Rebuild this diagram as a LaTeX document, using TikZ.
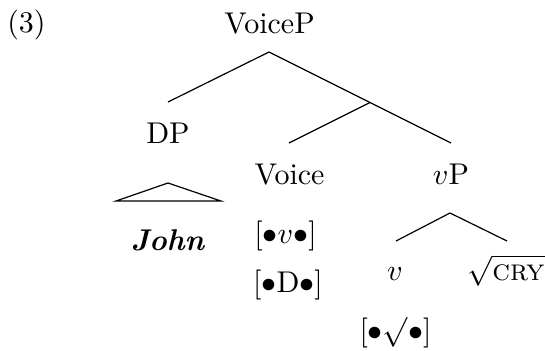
\documentclass[tikz,border=0pt]{standalone}
\begin{document}
\begin{tikzpicture}[x=0.3333pt,y=-0.3333pt,every node/.style={anchor=base,inner sep=0pt}]
    \useasboundingbox (0,0) rectangle (545,350);
    \node (ex) at (26.5,32.5) {(3)};
    \node (VoiceP) at (269.5,33) {VoiceP};
    \node (DP) at (168,143) {DP};
    \node (Voice) at (289.5,184) {Voice};
    \node (vP) at (451,184) {$v$P};
    \node (John) at (168,250) {\textbf{\textit{John}}};
    \node (fv) at (285.5,243) {[$\bullet v\bullet$]};
    \node (fD) at (288,292) {[$\bullet$D$\bullet$]};
    \node (v) at (395,280) {$v$};
    \node (root) at (506,280) {$\sqrt{\textsc{cry}}$};
    \node (froot) at (395.5,340) {[$\bullet\surd\bullet$]};
    \coordinate (VoiceP-b) at (269,52);
    \coordinate (DP-t) at (168,102);
    \coordinate (vP-t) at (451,143);
    \coordinate (VoiceB) at (370,102.5);
    \coordinate (Voice-t) at (289,143);
    \coordinate (tri-top) at (168,183);
    \coordinate (tri-l) at (116,201);
    \coordinate (tri-r) at (221,201);
    \coordinate (vP-b) at (450,213);
    \coordinate (v-t) at (396,241);
    \coordinate (root-t) at (507,241);
    \draw (VoiceP-b) -- (DP-t);
    \draw (VoiceP-b) -- (vP-t);
    \draw (VoiceB) -- (Voice-t);
    \draw (tri-top) -- (tri-l) -- (tri-r) -- cycle;
    \draw (vP-b) -- (v-t);
    \draw (vP-b) -- (root-t);
\end{tikzpicture}
\end{document}
